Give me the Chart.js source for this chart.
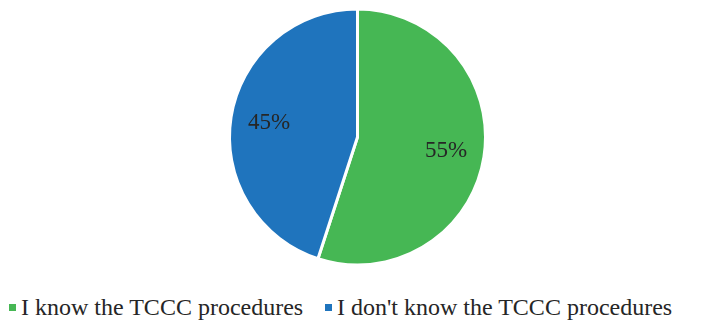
<!DOCTYPE html>
<html>
<head>
<meta charset="utf-8">
<script src="https://cdn.jsdelivr.net/npm/chart.js@4"></script>
<style>
  html, body { margin: 0; padding: 0; background: #fff; }
  #wrap { position: relative; width: 715px; height: 324px; }
  #pieTCCC { position: absolute; left: 0; top: 0; }
  .legend-item {
    position: absolute; top: 292px; white-space: nowrap;
    font-family: 'Liberation Serif', Tinos, 'Times New Roman', serif;
    font-size: 24px; color: #262626; line-height: 30px;
  }
  .legend-item i {
    display: inline-block; width: 7px; height: 7px; margin-right: 5px;
    vertical-align: 4px;
  }
</style>
</head>
<body>
<div id="wrap">
  <canvas id="pieTCCC" width="715" height="290"></canvas>
  <div id="legend"></div>
</div>
<script>
const categorias = ['I know the TCCC procedures', "I don't know the TCCC procedures"];
const porcentajes = [55, 45];
const colores = ['#46b754', '#1f74bd'];

// etiquetas de porcentaje dentro de cada sector
const etiquetasPct = {
    id: 'etiquetasPct',
    afterDatasetsDraw(chart) {
        const ctx = chart.ctx;
        const meta = chart.getDatasetMeta(0);
        ctx.save();
        ctx.font = "23px 'Liberation Serif', Tinos, serif";
        ctx.fillStyle = '#262626';
        ctx.textAlign = 'center';
        ctx.textBaseline = 'middle';
        meta.data.forEach(function(arc, i) {
            const p = arc.getProps(['x', 'y', 'startAngle', 'endAngle', 'outerRadius'], true);
            const mid = (p.startAngle + p.endAngle) / 2;
            const d = p.outerRadius * 0.7;
            ctx.fillText(porcentajes[i] + '%', p.x + Math.cos(mid) * d, p.y + Math.sin(mid) * d);
        });
        ctx.restore();
    }
};

const ctx = document.getElementById('pieTCCC').getContext('2d');

new Chart(ctx, {
    type: 'pie',
    data: {
        labels: categorias,
        datasets: [{
            data: porcentajes,
            backgroundColor: colores,
            borderColor: '#ffffff',
            borderWidth: 3,
            hoverOffset: 0
        }]
    },
    options: {
        responsive: false,
        animation: false,
        radius: 128,
        layout: { padding: { top: 0, bottom: 16 } },
        plugins: {
            legend: { display: false },
            tooltip: { enabled: false }
        }
    },
    plugins: [etiquetasPct]
});

// leyenda inferior, en fila
const leyenda = document.getElementById('legend');
let x = 9;
categorias.forEach(function(nombre, i) {
    const item = document.createElement('div');
    item.className = 'legend-item';
    item.style.left = x + 'px';
    const caja = document.createElement('i');
    caja.style.background = colores[i];
    item.appendChild(caja);
    item.appendChild(document.createTextNode(nombre));
    leyenda.appendChild(item);
    x += item.offsetWidth + 22;
});
</script>
</body>
</html>
